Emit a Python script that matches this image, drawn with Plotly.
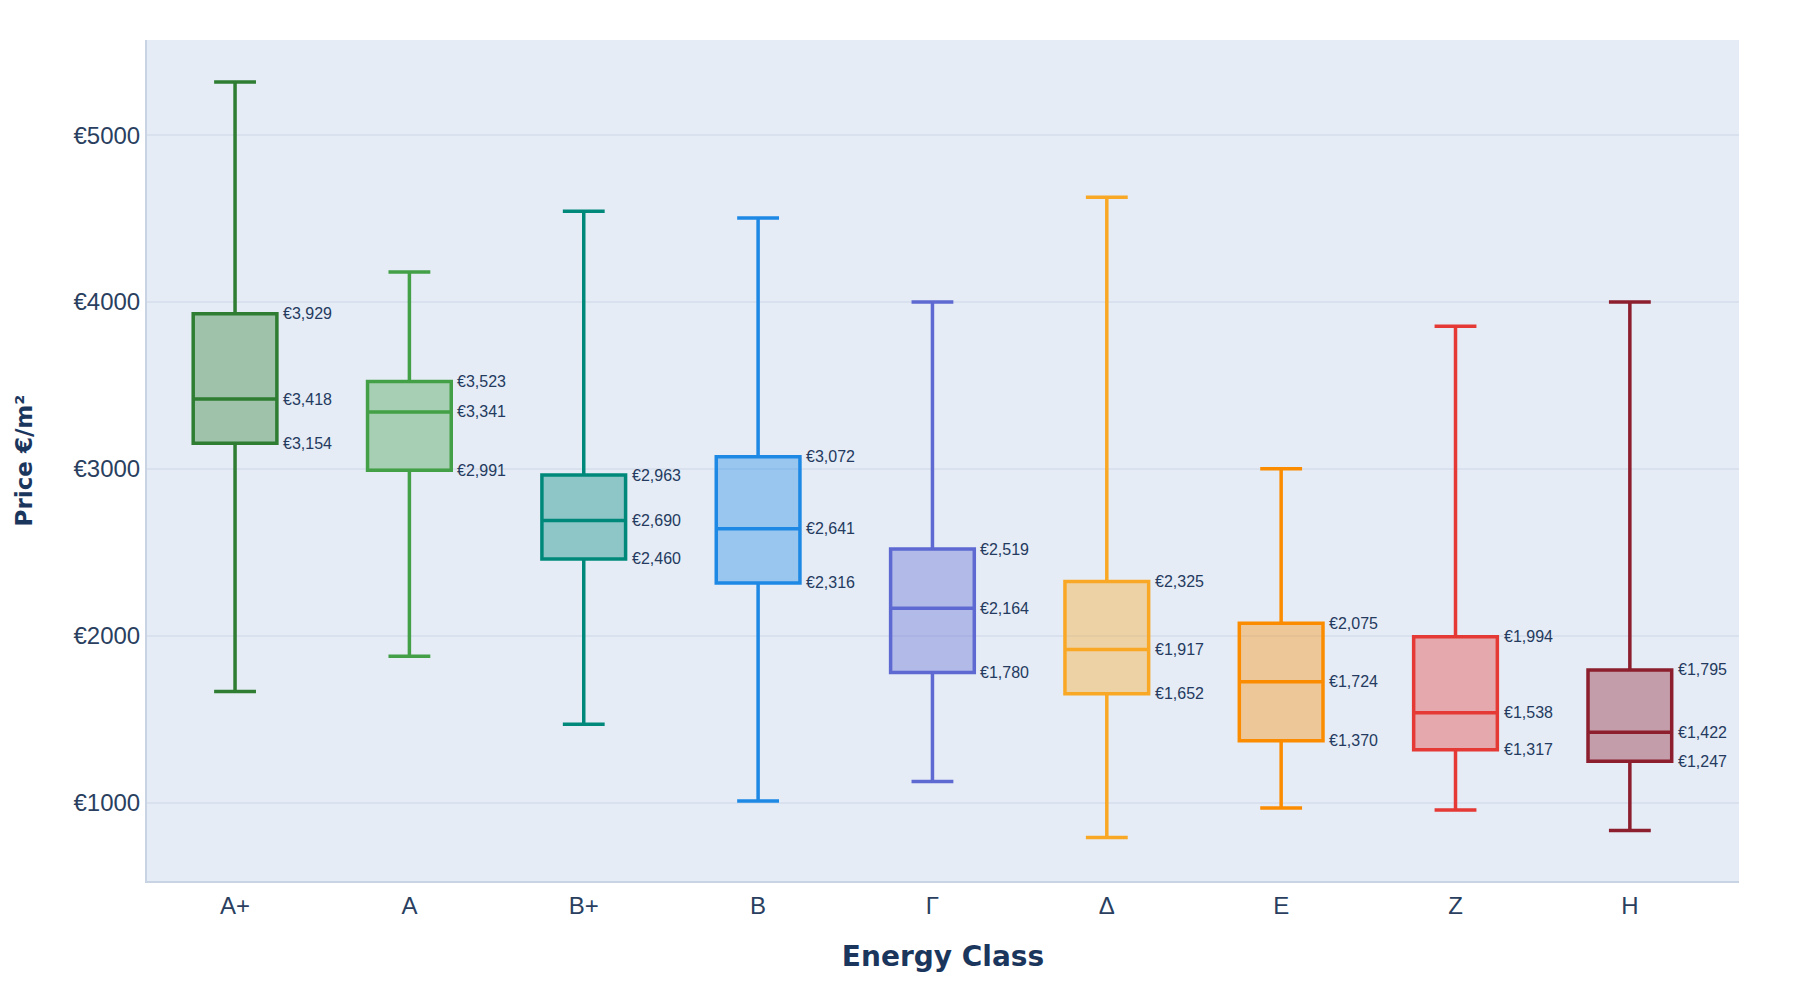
import plotly.graph_objects as go

categories = ["A+", "A", "B+", "B", "Γ", "Δ", "E", "Z", "H"]
q1_vals = [3154, 2991, 2460, 2316, 1780, 1652, 1370, 1317, 1247]
median_vals = [3418, 3341, 2690, 2641, 2164, 1917, 1724, 1538, 1422]
q3_vals = [3929, 3523, 2963, 3072, 2519, 2325, 2075, 1994, 1795]
lower_vals = [1665, 1877, 1469, 1010, 1126, 790, 968, 956, 832]
upper_vals = [5319, 4180, 4543, 4503, 4000, 4628, 3000, 3855, 4000]
colors = ["#2E7D32", "#43A047", "#00897B", "#1E88E5", "#5E6AD2",
          "#F9A825", "#FB8C00", "#E53935", "#8C1E2D"]


def rgba(hex_color, alpha):
    h = hex_color.lstrip("#")
    r, g, b = int(h[0:2], 16), int(h[2:4], 16), int(h[4:6], 16)
    return f"rgba({r},{g},{b},{alpha})"


fig = go.Figure()
for i, cat in enumerate(categories):
    fig.add_trace(go.Box(
        x=[cat],
        q1=[q1_vals[i]],
        median=[median_vals[i]],
        q3=[q3_vals[i]],
        lowerfence=[lower_vals[i]],
        upperfence=[upper_vals[i]],
        name=cat,
        marker_color=colors[i],
        line=dict(color=colors[i], width=3.5),
        fillcolor=rgba(colors[i], 0.38),
        width=0.48,
        whiskerwidth=0.5,
        hoverinfo="skip",
        showlegend=False,
    ))

annotations = []
for i, cat in enumerate(categories):
    for v in (q1_vals[i], median_vals[i], q3_vals[i]):
        annotations.append(dict(
            x=cat, y=v, xref="x", yref="y",
            text=f"€{v:,}",
            showarrow=False,
            xanchor="left", yanchor="middle",
            xshift=46,
            font=dict(family="Liberation Sans, Arial, sans-serif", size=16, color="#243a5e"),
        ))

fig.update_layout(
    width=1800, height=1000,
    margin=dict(l=139, r=69, t=32, b=127),
    paper_bgcolor="white",
    plot_bgcolor="#e5ecf6",
    showlegend=False,
    annotations=annotations,
    font=dict(family="Liberation Sans, Arial, sans-serif", color="#2a3f5f"),
    xaxis=dict(
        type="category",
        categoryorder="array",
        categoryarray=categories,
        range=[-0.505, 8.626],
        showgrid=False,
        showline=True, linecolor="#c8d4e3", linewidth=2,
        ticks="outside", ticklen=2, tickcolor="rgba(0,0,0,0)",
        tickfont=dict(family="Liberation Sans, Arial, sans-serif", size=24, color="#2a3f5f"),
        title=dict(text="<b>Energy Class</b>",
                   font=dict(family="DejaVu Sans", size=28, color="#1b365d"),
                   standoff=29),
    ),
    yaxis=dict(
        range=[530, 5570],
        dtick=1000,
        tick0=0,
        tickprefix="€",
        tickformat="d",
        showgrid=True, gridcolor="#d9e1ef", gridwidth=2,
        zeroline=False,
        showline=True, linecolor="#c8d4e3", linewidth=2,
        tickfont=dict(family="Liberation Sans, Arial, sans-serif", size=24, color="#2a3f5f"),
        title=dict(text="<b>Price €/m²</b>",
                   font=dict(family="DejaVu Sans", size=23, color="#1b365d"),
                   standoff=34),
    ),
)

fig.write_html("out.html")
